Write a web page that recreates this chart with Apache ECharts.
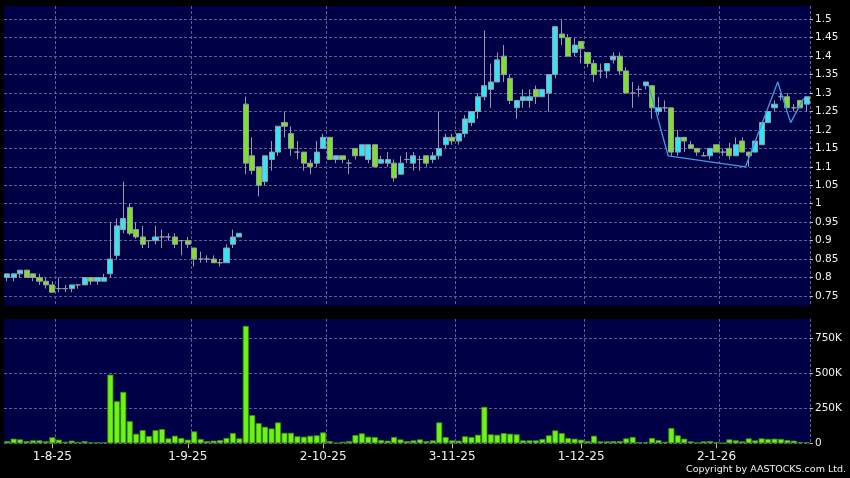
<!DOCTYPE html>
<html><head><meta charset="utf-8">
<script src="https://cdn.jsdelivr.net/npm/echarts@6/dist/echarts.min.js"></script>
<style>html,body{margin:0;padding:0;background:#000;}#c{width:850px;height:478px;}</style>
</head><body><div id="c"></div>
<script>
const dates = [
 "2025-07-22","2025-07-23","2025-07-24","2025-07-25","2025-07-28","2025-07-29","2025-07-30","2025-07-31",
 "2025-08-01","2025-08-04","2025-08-05","2025-08-06","2025-08-07","2025-08-08","2025-08-11","2025-08-12","2025-08-13","2025-08-14","2025-08-15","2025-08-18","2025-08-19","2025-08-20","2025-08-21","2025-08-22","2025-08-25","2025-08-26","2025-08-27","2025-08-28","2025-08-29",
 "2025-09-01","2025-09-02","2025-09-03","2025-09-04","2025-09-05","2025-09-08","2025-09-09","2025-09-10","2025-09-11","2025-09-12","2025-09-15","2025-09-16","2025-09-17","2025-09-18","2025-09-19","2025-09-22","2025-09-23","2025-09-25","2025-09-26","2025-09-29","2025-09-30",
 "2025-10-02","2025-10-03","2025-10-06","2025-10-08","2025-10-09","2025-10-10","2025-10-13","2025-10-14","2025-10-15","2025-10-16","2025-10-17","2025-10-20","2025-10-21","2025-10-22","2025-10-23","2025-10-24","2025-10-27","2025-10-28","2025-10-30","2025-10-31",
 "2025-11-03","2025-11-04","2025-11-05","2025-11-06","2025-11-07","2025-11-10","2025-11-11","2025-11-12","2025-11-13","2025-11-14","2025-11-17","2025-11-18","2025-11-19","2025-11-20","2025-11-21","2025-11-24","2025-11-25","2025-11-26","2025-11-27","2025-11-28",
 "2025-12-01","2025-12-02","2025-12-03","2025-12-04","2025-12-05","2025-12-08","2025-12-09","2025-12-10","2025-12-11","2025-12-12","2025-12-15","2025-12-16","2025-12-17","2025-12-18","2025-12-19","2025-12-22","2025-12-23","2025-12-24","2025-12-29","2025-12-30","2025-12-31",
 "2026-01-02","2026-01-05","2026-01-06","2026-01-07","2026-01-08","2026-01-09","2026-01-12","2026-01-13","2026-01-14","2026-01-15","2026-01-16","2026-01-19","2026-01-20","2026-01-21"
];
const open = [0.80,0.80,0.81,0.82,0.81,0.80,0.79,0.78,0.77,0.77,0.77,0.78,0.78,0.80,0.79,0.79,0.81,0.86,0.93,0.99,
 0.93,0.91,0.90,0.90,0.91,0.91,0.91,0.90,0.90,0.88,0.85,0.85,0.85,0.84,0.84,0.89,0.91,1.27,1.13,1.10,
 1.06,1.12,1.14,1.22,1.19,1.14,1.14,1.11,1.11,1.15,1.18,1.12,1.13,1.11,1.15,1.13,1.12,1.16,1.11,1.11,
 1.11,1.08,1.12,1.11,1.12,1.13,1.12,1.13,1.16,1.18,1.17,1.19,1.22,1.25,1.29,1.31,1.33,1.40,1.34,1.26,
 1.28,1.28,1.31,1.29,1.30,1.35,1.46,1.45,1.41,1.44,1.41,1.38,1.36,1.36,1.39,1.40,1.36,1.30,1.31,1.32,
 1.32,1.25,1.26,1.26,1.14,1.18,1.16,1.15,1.13,1.13,1.16,1.14,1.15,1.13,1.17,1.14,1.14,1.16,1.22,1.26,
 1.29,1.29,1.26,1.28,1.27];
const close = [0.81,0.81,0.82,0.80,0.80,0.79,0.78,0.76,0.77,0.77,0.78,0.78,0.80,0.79,0.80,0.80,0.85,0.94,0.96,0.92,
 0.91,0.89,0.90,0.91,0.91,0.91,0.89,0.90,0.89,0.85,0.85,0.85,0.84,0.84,0.88,0.91,0.92,1.11,1.09,1.05,
 1.13,1.14,1.21,1.21,1.15,1.14,1.11,1.10,1.14,1.18,1.12,1.13,1.12,1.11,1.13,1.16,1.16,1.10,1.12,1.12,
 1.07,1.11,1.12,1.13,1.12,1.11,1.13,1.15,1.18,1.17,1.19,1.23,1.25,1.29,1.32,1.33,1.39,1.35,1.28,1.28,
 1.29,1.29,1.29,1.31,1.35,1.48,1.45,1.40,1.43,1.42,1.38,1.35,1.36,1.38,1.40,1.36,1.30,1.30,1.31,1.33,
 1.26,1.26,1.26,1.14,1.18,1.17,1.15,1.14,1.13,1.15,1.14,1.14,1.13,1.16,1.14,1.13,1.17,1.22,1.25,1.27,
 1.29,1.26,1.26,1.26,1.29];
const low = [0.79,0.79,0.80,0.80,0.79,0.78,0.77,0.76,0.76,0.76,0.76,0.77,0.78,0.78,0.78,0.79,0.80,0.85,0.92,0.915,
 0.905,0.88,0.88,0.89,0.88,0.90,0.88,0.86,0.88,0.83,0.84,0.84,0.84,0.83,0.84,0.88,0.91,1.08,1.08,1.02,
 1.05,1.09,1.13,1.18,1.13,1.12,1.09,1.08,1.10,1.15,1.12,1.11,1.11,1.08,1.12,1.13,1.11,1.10,1.11,1.10,
 1.06,1.08,1.11,1.09,1.09,1.10,1.11,1.12,1.15,1.16,1.16,1.18,1.21,1.23,1.28,1.26,1.33,1.33,1.27,1.23,
 1.26,1.26,1.27,1.29,1.25,1.34,1.43,1.40,1.40,1.38,1.37,1.33,1.34,1.34,1.38,1.35,1.30,1.26,1.29,1.31,
 1.23,1.24,1.25,1.13,1.13,1.14,1.15,1.13,1.13,1.12,1.14,1.13,1.12,1.13,1.14,1.10,1.14,1.16,1.22,1.25,
 1.28,1.26,1.25,1.26,1.25];
const high = [0.81,0.81,0.82,0.82,0.81,0.81,0.80,0.79,0.80,0.78,0.78,0.78,0.80,0.80,0.80,0.81,0.95,0.96,1.06,1.00,
 0.95,0.94,0.90,0.94,0.93,0.92,0.92,0.90,0.91,0.88,0.87,0.86,0.86,0.85,0.89,0.93,0.92,1.29,1.18,1.10,
 1.13,1.17,1.21,1.25,1.21,1.17,1.14,1.12,1.17,1.19,1.18,1.13,1.13,1.12,1.15,1.16,1.16,1.16,1.13,1.14,
 1.12,1.13,1.14,1.14,1.13,1.13,1.14,1.25,1.19,1.19,1.19,1.24,1.25,1.30,1.47,1.38,1.41,1.43,1.35,1.28,
 1.31,1.31,1.32,1.31,1.35,1.48,1.50,1.46,1.45,1.44,1.41,1.39,1.38,1.38,1.41,1.41,1.37,1.33,1.32,1.33,
 1.32,1.29,1.28,1.26,1.20,1.18,1.17,1.15,1.14,1.15,1.16,1.15,1.165,1.18,1.18,1.14,1.17,1.22,1.25,1.28,
 1.30,1.30,1.27,1.28,1.29];
const volumeK = [16,33,28,16,21,21,14,43,26,11,19,9,16,7,7,7,490,300,367,158,
 68,94,52,94,101,35,54,38,26,85,31,16,19,23,38,73,35,838,201,144,
 118,106,149,75,75,50,47,54,57,78,16,4,11,16,59,71,47,45,23,19,
 45,28,16,21,28,16,21,149,45,21,19,50,45,61,260,64,61,73,68,64,
 21,21,21,31,57,92,73,38,33,26,16,54,14,14,16,16,35,45,9,9,
 38,23,11,109,57,33,14,7,14,16,9,3,28,21,14,35,21,35,31,33,
 31,23,19,9,7];
const zigzagIdx = [100,103,115,120,122,124];
const zigzagVal = [1.32,1.13,1.10,1.33,1.22,1.285];
const priceTicks = [0.75,0.8,0.85,0.9,0.95,1,1.05,1.1,1.15,1.2,1.25,1.3,1.35,1.4,1.45,1.5];
const volTicks = [0,250000,500000,750000];

const fmt = d => { const p = d.split('-'); return (+p[2]) + '-' + (+p[1]) + '-' + p[0].slice(2); };
const monthStart = new Set();
dates.forEach((d,i)=>{ if(i>0 && d.slice(0,7)!==dates[i-1].slice(0,7)) monthStart.add(i); });
const edges = Array.from({length: dates.length+1}, (_,i)=>i);
const zig = edges.map(()=>null);
zigzagIdx.forEach((k,j)=>{ zig[k]=zigzagVal[j]; });

const NAVY = '#000046';
const GRIDLINE = {show:true, lineStyle:{color:'#5f5f92', type:[3,2], width:1}};
const FONT = 'DejaVu Sans';

const chart = echarts.init(document.getElementById('c'), null, {renderer:'canvas'});
chart.setOption({
  animation:false,
  backgroundColor:'#000',
  grid:[
    {left:4, top:6, width:806, height:300, show:true, backgroundColor:NAVY, borderWidth:0},
    {left:4, top:319, width:806, height:124.3, show:true, backgroundColor:NAVY, borderWidth:0}
  ],
  xAxis:[
    {type:'category', gridIndex:0, data:dates, boundaryGap:true,
     axisLine:{show:false}, axisTick:{show:false}, axisLabel:{show:false},
     splitLine:{...GRIDLINE, interval:(i)=>monthStart.has(i)}},
    {type:'category', gridIndex:1, data:dates, boundaryGap:true,
     axisLine:{show:false},
     axisTick:{show:true, alignWithLabel:true, length:5, interval:(i)=>monthStart.has(i+1), lineStyle:{color:'#bbbbbb'}},
     axisLabel:{show:true, interval:(i)=>monthStart.has(i+1), formatter:(v,i)=>fmt(dates[i+1]||v),
       color:'#f0f0f0', fontFamily:FONT, fontSize:12, margin:8},
     splitLine:{...GRIDLINE, interval:(i)=>monthStart.has(i)}},
    {type:'category', gridIndex:0, data:edges, boundaryGap:false, show:false}
  ],
  yAxis:[
    {type:'value', gridIndex:0, position:'right', min:0.7228, max:1.536, scale:true,
     axisLine:{show:false},
     axisTick:{show:true, length:3, customValues:priceTicks, lineStyle:{color:'#bbbbbb'}},
     axisLabel:{customValues:priceTicks, formatter:v=>String(+(+v).toFixed(2)), color:'#f0f0f0', fontFamily:FONT, fontSize:10.5, margin:5},
     splitLine:GRIDLINE},
    {type:'value', gridIndex:1, position:'right', min:0, max:887000,
     axisLine:{show:false},
     axisTick:{show:true, length:3, customValues:volTicks, lineStyle:{color:'#bbbbbb'}},
     axisLabel:{customValues:volTicks, formatter:v=>v==0?'0':(v/1000)+'K', color:'#f0f0f0', fontFamily:FONT, fontSize:10.5, margin:5},
     splitLine:GRIDLINE}
  ],
  series:[
    {type:'candlestick', xAxisIndex:0, yAxisIndex:0, barWidth:5.6,
     data:dates.map((d,i)=>[open[i],close[i],low[i],high[i]]),
     itemStyle:{color:'#2ee6f6', color0:'#7be12a', borderColor:'#9a9aa6', borderColor0:'#9a9aa6', borderWidth:1}},
    {type:'bar', xAxisIndex:1, yAxisIndex:1, barWidth:6,
     data:volumeK.map(v=>v*1000),
     itemStyle:{color:'#6cf514', borderColor:'#3d8f12', borderWidth:0.8}},
    {type:'line', xAxisIndex:2, yAxisIndex:0, data:zig, connectNulls:true, symbol:'none',
     lineStyle:{color:'#3d9be6', width:1.3}, z:5}
  ],
  graphic:[
    {type:'text', right:4, top:465, style:{text:'Copyright by AASTOCKS.com Ltd.', fill:'#f0f0f0', font:'9.5px "DejaVu Sans"'}}
  ]
});
</script></body></html>
